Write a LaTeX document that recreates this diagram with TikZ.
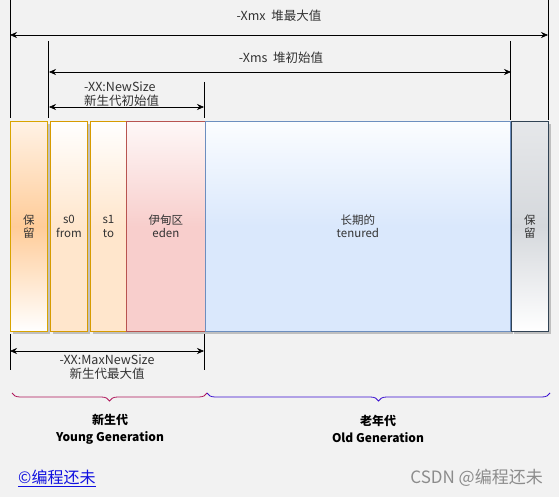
\documentclass[tikz,border=0pt]{standalone}
\usepackage{fontspec}
\setmainfont{Noto Sans CJK SC}
\usetikzlibrary{
  arrows.meta,
  positioning,
  calc,
  shadows,
  decorations.pathreplacing
}
\definecolor{bggray}{HTML}{F2F2F2}
\definecolor{darktext}{HTML}{333333}
\definecolor{resorange}{HTML}{FFCC99}
\definecolor{resedge}{HTML}{D9A400}
\definecolor{survfill}{HTML}{FFE6CC}
\definecolor{survedge}{HTML}{D79B00}
\definecolor{edenfill}{HTML}{F8CECC}
\definecolor{edenedge}{HTML}{B85450}
\definecolor{oldfill}{HTML}{DAE8FC}
\definecolor{oldedge}{HTML}{6C8EBF}
\definecolor{grayfill}{HTML}{D5D8DC}
\definecolor{grayedge}{HTML}{314354}
\definecolor{youngbrace}{HTML}{B0175B}
\definecolor{oldbrace}{HTML}{3A0FD0}
\definecolor{linkblue}{HTML}{1010E0}

\begin{document}
\begin{tikzpicture}[
    x=1pt, y=-1pt,
    every node/.style={font=\fontsize{11.5}{13.5}\selectfont, text=darktext},
    region/.style={rectangle, anchor=north west, minimum height=210pt, inner sep=0pt,
                   align=center, line width=0.8pt,
                   drop shadow={shadow xshift=3pt, shadow yshift=-3pt, fill=black!25, opacity=1}},
    resleft/.style={region, draw=resedge, top color=resorange!25!white, bottom color=white, middle color=resorange},
    survivor/.style={region, draw=survedge, top color=white, bottom color=survfill, middle color=survfill},
    edenbox/.style={region, draw=edenedge, top color=edenfill!15!white, bottom color=edenfill, middle color=edenfill},
    tenuredbox/.style={region, draw=oldedge, top color=oldfill!10!white, bottom color=oldfill, middle color=oldfill},
    resright/.style={region, draw=grayedge, top color=grayfill!60!white, bottom color=white, middle color=grayfill},
    dimline/.style={black, line width=0.6pt},
    dimarrow/.style={{Stealth[length=7pt, width=6pt]}-{Stealth[length=7pt, width=6pt]}, black, line width=0.6pt},
    dimlabel/.style={font=\fontsize{12.5}{14}\selectfont, align=center, inner sep=1pt},
    genbrace/.style={decorate, decoration={brace, mirror, amplitude=8pt}, line width=0.8pt},
    genlabel/.style={font=\bfseries\fontsize{12}{17}\selectfont, text=black, align=center},
]

% --- Background ---
\fill[bggray] (0,0) rectangle (559,497);
\useasboundingbox (0,0) rectangle (559,497);

% --- Heap regions ---
\node[resleft, minimum width=37pt] (resL) at (10,121) {保\\留};
\node[survivor, minimum width=37pt] (sfrom) at (50,121) {s0\\from};
\node[survivor, minimum width=36pt] (sto) at (90,121) {s1\\to};
\node[edenbox, minimum width=79pt] (eden) at (126,121) {伊甸区\\eden};
\node[tenuredbox, minimum width=305pt] (tenured) at (205,121) {长期的\\tenured};
\node[resright, minimum width=37pt] (resR) at (511,121) {保\\留};

% --- Extension lines ---
\coordinate (xmxTopL) at (10,0);
\coordinate (xmxTopR) at (548,0);
\coordinate (xmsTopL) at (48,41);
\coordinate (xmsTopR) at (510,41);
\coordinate (newTopR) at (204,82);
\coordinate (maxBotL) at (10,370);
\coordinate (maxBotR) at (204,370);
\draw[dimline] (xmxTopL) -- (10,118);
\draw[dimline] (xmxTopR) -- (548,120);
\draw[dimline] (xmsTopL) -- (48,118);
\draw[dimline] (xmsTopR) -- (510,120);
\draw[dimline] (newTopR) -- (204,118);
\draw[dimline] (10,334) -- (maxBotL);
\draw[dimline] (204,334) -- (maxBotR);

% --- Dimension arrows ---
\coordinate (xmxL) at (10,35);
\coordinate (xmxR) at (548,35);
\coordinate (xmsL) at (49,72);
\coordinate (xmsR) at (511,72);
\coordinate (newL) at (49,107);
\coordinate (newR) at (204,107);
\coordinate (maxL) at (10,351);
\coordinate (maxR) at (204,351);
\draw[dimarrow] (xmxL) -- (xmxR);
\draw[dimarrow] (xmsL) -- (xmsR);
\draw[dimarrow] (newL) -- (newR);
\draw[dimarrow] (maxL) -- (maxR);

% --- Dimension labels ---
\node[dimlabel] (xmxlabel) at (279,16) {-Xmx\ \ 堆最大值};
\node[dimlabel] (xmslabel) at (281,58) {-Xms\ \ 堆初始值};
\node[dimlabel, anchor=west, align=left] (newlabel) at (83,94) {-XX:NewSize\\新生代初始值};
\node[dimlabel] (maxlabel) at (107,367) {-XX:MaxNewSize\\新生代最大值};

% --- Generation braces ---
\coordinate (youngL) at (12,393);
\coordinate (youngR) at (207,393);
\coordinate (oldL) at (207,393);
\coordinate (oldR) at (550,393);
\draw[genbrace, youngbrace] (youngL) -- (youngR);
\draw[genbrace, oldbrace] (oldL) -- (oldR);
\node[genlabel] (younglabel) at (110,429) {新生代\\Young Generation};
\node[genlabel] (oldlabel) at (378,429) {老年代\\Old Generation};

% --- Footer ---
\node[font=\fontsize{16}{18}\selectfont, text=linkblue, anchor=west, inner sep=0pt] (author) at (18,478) {\underline{©编程还未}};
\node[font=\fontsize{17}{19}\selectfont, text=black!45, anchor=east, inner sep=0pt] (csdn) at (543,478) {CSDN @编程还未};

\end{tikzpicture}
\end{document}
